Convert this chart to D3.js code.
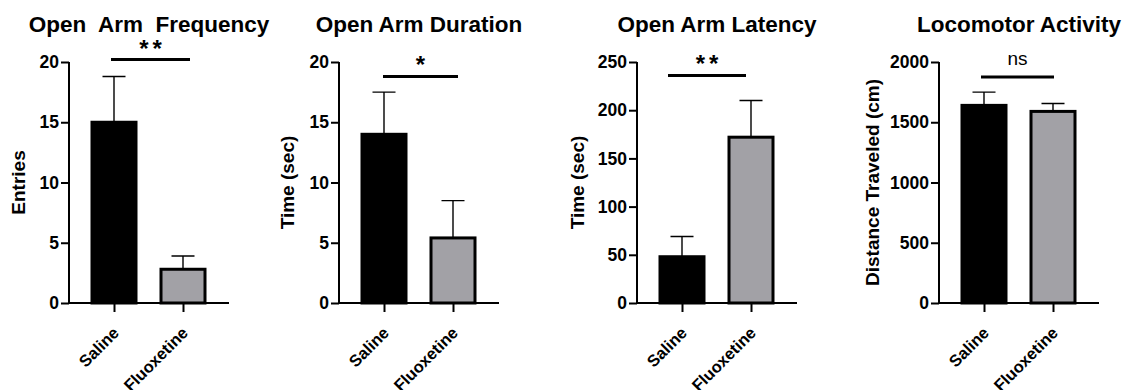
<!DOCTYPE html>
<html>
<head>
<meta charset="utf-8">
<script src="https://cdn.jsdelivr.net/npm/d3@7"></script>
<style>
  body { margin: 0; background: #fff; }
  svg { font-family: "Liberation Sans", Arial, Helvetica, sans-serif; }
</style>
</head>
<body>
<div id="chart"></div>
<script>
// data
const groups = ["Saline", "Fluoxetine"];
const panelTitles = ["Open  Arm  Frequency", "Open Arm Duration", "Open Arm Latency", "Locomotor Activity"];
const yLabels = ["Entries", "Time (sec)", "Time (sec)", "Distance Traveled (cm)"];
const yMax = [20, 20, 250, 2000];
const yTickStep = [5, 5, 50, 500];
const means = [[15, 2.8], [14, 5.4], [48, 172], [1640, 1590]];
const errs = [[3.8, 1.1], [3.5, 3.1], [21, 38], [110, 65]];
const sigLabels = ["**", "*", "**", "ns"];
const sigLevel = [20.2, 18.8, 236, 1875];

const width = 1134, height = 390;
const panelLeft = [69, 339, 637, 939];
const plotW = 160, plotTop = 62, plotBottom = 303;
const yLabelX = [-44, -45, -53, -60];
const sigSpan = [[-3, 7], [-1, 5], [-14, -5], [-3, 1]];
const colors = ["#000000", "#a2a1a6"];

const svg = d3.select("#chart").append("svg")
  .attr("width", width)
  .attr("height", height);

panelTitles.forEach((title, p) => {
  const g = svg.append("g").attr("transform", `translate(${panelLeft[p]},0)`);

  const x = d3.scalePoint().domain(groups).range([45, 114]);
  const y = d3.scaleLinear().domain([0, yMax[p]]).range([plotBottom, plotTop]);
  const barW = 44;

  // bars
  g.selectAll(".bar")
    .data(groups)
    .enter().append("rect")
    .attr("x", d => x(d) - barW / 2)
    .attr("y", (d, i) => y(means[p][i]))
    .attr("width", barW)
    .attr("height", (d, i) => plotBottom - y(means[p][i]))
    .attr("fill", (d, i) => colors[i])
    .attr("stroke", "#000")
    .attr("stroke-width", 3);

  // upper error whiskers
  g.selectAll(".err")
    .data(groups)
    .enter().append("path")
    .attr("d", (d, i) => {
      const cx = x(d), y0 = y(means[p][i]), y1 = y(means[p][i] + errs[p][i]);
      return `M${cx},${y0}V${y1}M${cx - 11.5},${y1}H${cx + 11.5}`;
    })
    .attr("fill", "none")
    .attr("stroke", "#000")
    .attr("stroke-width", 1.4);

  // y axis
  const yAxis = d3.axisLeft(y)
    .tickValues(d3.range(0, yMax[p] + 0.001, yTickStep[p]))
    .tickSize(8)
    .tickPadding(2)
    .tickFormat(d3.format("d"));
  const ya = g.append("g").call(yAxis);
  ya.select(".domain").attr("stroke-width", 2).attr("d", `M0,${plotTop}V${plotBottom}`);
  ya.selectAll(".tick line").attr("stroke-width", 2);
  ya.selectAll(".tick text")
    .attr("font-size", 17.5)
    .attr("font-weight", "bold")
    .attr("fill", "#000");

  // x axis
  const xAxis = d3.axisBottom(x).tickSize(9).tickFormat("");
  const xa = g.append("g").attr("transform", `translate(0,${plotBottom})`).call(xAxis);
  xa.select(".domain").attr("stroke-width", 2).attr("d", `M0,0H${plotW}`);
  xa.selectAll(".tick line").attr("stroke-width", 2);

  g.selectAll(".xlab")
    .data(groups)
    .enter().append("text")
    .attr("transform", d => `translate(${x(d) + 6},${plotBottom + 31}) rotate(-45)`)
    .attr("text-anchor", "end")
    .attr("font-size", 16.5)
    .attr("font-weight", "bold")
    .text(d => d);

  // y label
  g.append("text")
    .attr("transform", `translate(${yLabelX[p]},${(plotTop + plotBottom) / 2}) rotate(-90)`)
    .attr("text-anchor", "middle")
    .attr("font-size", 19)
    .attr("font-weight", "bold")
    .text(yLabels[p]);

  // title
  g.append("text")
    .attr("x", plotW / 2)
    .attr("y", 32)
    .attr("text-anchor", "middle")
    .attr("font-size", 22.5)
    .attr("font-weight", "bold")
    .style("white-space", "pre")
    .text(title);

  // significance bar
  const sy = y(sigLevel[p]);
  const x0 = x(groups[0]) + sigSpan[p][0], x1 = x(groups[1]) + sigSpan[p][1];
  g.append("line")
    .attr("x1", x0).attr("x2", x1)
    .attr("y1", sy).attr("y2", sy)
    .attr("stroke", "#000")
    .attr("stroke-width", 3);
  const isNs = sigLabels[p] === "ns";
  g.append("text")
    .attr("x", (x0 + x1) / 2)
    .attr("dx", isNs ? 0 : 2)
    .attr("y", isNs ? sy - 12 : sy - 3)
    .attr("text-anchor", "middle")
    .attr("font-size", isNs ? 19 : 24)
    .attr("font-weight", isNs ? "normal" : "bold")
    .attr("letter-spacing", isNs ? 0 : 4)
    .text(sigLabels[p]);
});
</script>
</body>
</html>
